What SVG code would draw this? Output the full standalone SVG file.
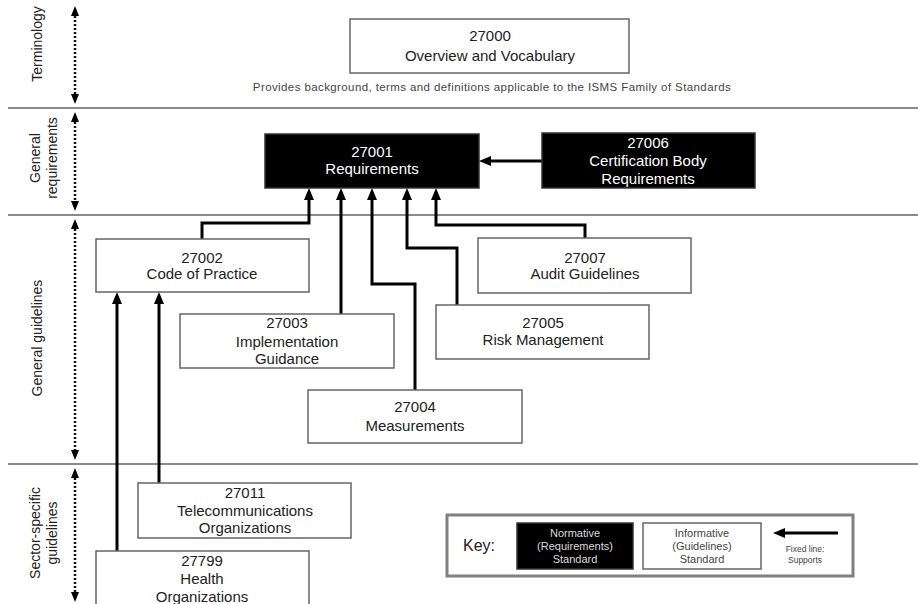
<svg xmlns="http://www.w3.org/2000/svg" width="918" height="604" viewBox="0 0 918 604">
<style>
text{font-family:"Liberation Sans",Arial,sans-serif;}
.sep{stroke:#8a8a8a;stroke-width:2;fill:none;}
.dot{stroke:#111;stroke-width:2.5;stroke-dasharray:2 2;fill:none;marker-start:url(#dh);marker-end:url(#dh);}
.lab{font-size:14px;fill:#222;text-anchor:middle;}
.inf{fill:#fff;stroke:#666;stroke-width:1.5;}
.nor{fill:#000;stroke:#333;stroke-width:1.5;}
.t{font-size:15px;fill:#222;text-anchor:middle;}
.tw{font-size:15px;fill:#fff;text-anchor:middle;}
.con{stroke:#000;stroke-width:3;fill:none;marker-end:url(#ah);}
.k{font-size:11px;text-anchor:middle;}
</style>
<defs>
<marker id="ah" markerUnits="userSpaceOnUse" viewBox="0 0 12 10" refX="6" refY="5" markerWidth="12" markerHeight="10" orient="auto">
<path d="M0,0 L12,5 L0,10 z" fill="#000"/>
</marker>
<marker id="dh" markerUnits="userSpaceOnUse" viewBox="0 0 10 8" refX="4" refY="4" markerWidth="10" markerHeight="8" orient="auto-start-reverse">
<path d="M0,0 L10,4 L0,8 z" fill="#000"/>
</marker>
</defs>
<rect width="918" height="604" fill="#fff"/>

<g id="sections">
<line class="sep" x1="8" y1="108" x2="918" y2="108"/>
<line class="sep" x1="8" y1="215" x2="918" y2="215"/>
<line class="sep" x1="8" y1="464" x2="918" y2="464"/>
<path class="dot" d="M75,12 V98"/>
<path class="dot" d="M75,118 V205"/>
<path class="dot" d="M75,225 V454"/>
<path class="dot" d="M75,474 V596"/>
<text class="lab" transform="translate(42,44) rotate(-90)">Terminology</text>
<text class="lab" transform="translate(40,158) rotate(-90)">General</text>
<text class="lab" transform="translate(57,158) rotate(-90)">requirements</text>
<text class="lab" transform="translate(42,338) rotate(-90)">General guidelines</text>
<text class="lab" transform="translate(40,533) rotate(-90)">Sector-specific</text>
<text class="lab" transform="translate(57,533) rotate(-90)">guidelines</text>
</g>

<g id="connectors">
<path class="con" d="M202,239 V223 H309 V194"/>
<path class="con" d="M341,314 V194"/>
<path class="con" d="M415,390 V284 H372 V194"/>
<path class="con" d="M457,305 V248 H407 V194"/>
<path class="con" d="M585,238 V225 H436 V194"/>
<path class="con" d="M542,161 H485"/>
<path class="con" d="M159,483 V298"/>
<path class="con" d="M117,551 V298"/>
</g>

<g id="n27000">
<rect class="inf" x="350" y="19" width="279" height="54"/>
<text class="t" x="490" y="40.5">27000</text>
<text class="t" x="490" y="60.5">Overview and Vocabulary</text>
<text x="492" y="91" font-size="11.5" fill="#444" text-anchor="middle" letter-spacing="0.4">Provides background, terms and definitions applicable to the ISMS Family of Standards</text>
</g>

<g id="n27001">
<rect class="nor" x="265" y="134" width="214" height="54"/>
<text class="tw" x="372" y="156.5">27001</text>
<text class="tw" x="372" y="174">Requirements</text>
</g>

<g id="n27006">
<rect class="nor" x="542" y="133" width="213" height="55"/>
<text class="tw" x="648" y="147.5">27006</text>
<text class="tw" x="648" y="166">Certification Body</text>
<text class="tw" x="648" y="184">Requirements</text>
</g>

<g id="n27002">
<rect class="inf" x="96" y="239" width="213" height="53"/>
<text class="t" x="202" y="262.5">27002</text>
<text class="t" x="202" y="279">Code of Practice</text>
</g>

<g id="n27007">
<rect class="inf" x="478" y="238" width="213" height="55"/>
<text class="t" x="585" y="262.5">27007</text>
<text class="t" x="585" y="279">Audit Guidelines</text>
</g>

<g id="n27003">
<rect class="inf" x="180" y="314" width="214" height="54"/>
<text class="t" x="287" y="328">27003</text>
<text class="t" x="287" y="346.5">Implementation</text>
<text class="t" x="287" y="364">Guidance</text>
</g>

<g id="n27005">
<rect class="inf" x="436" y="305" width="213" height="54"/>
<text class="t" x="543" y="327.5">27005</text>
<text class="t" x="543" y="345">Risk Management</text>
</g>

<g id="n27004">
<rect class="inf" x="308" y="390" width="214" height="53"/>
<text class="t" x="415" y="412">27004</text>
<text class="t" x="415" y="430.5">Measurements</text>
</g>

<g id="n27011">
<rect class="inf" x="138" y="483" width="213" height="55"/>
<text class="t" x="245" y="497.5">27011</text>
<text class="t" x="245" y="516">Telecommunications</text>
<text class="t" x="245" y="532.5">Organizations</text>
</g>

<g id="n27799">
<rect class="inf" x="96" y="551" width="213" height="60"/>
<text class="t" x="202" y="566">27799</text>
<text class="t" x="202" y="584">Health</text>
<text class="t" x="202" y="602">Organizations</text>
</g>

<g id="key">
<rect x="447" y="515" width="406" height="61" fill="#fff" stroke="#808080" stroke-width="3"/>
<text x="463" y="551" font-size="16" fill="#222">Key:</text>
<rect class="nor" x="517" y="523" width="116" height="46"/>
<text class="k" x="575" y="537" fill="#ddd">Normative</text>
<text class="k" x="575" y="550" fill="#ddd">(Requirements)</text>
<text class="k" x="575" y="563" fill="#ddd">Standard</text>
<rect class="inf" x="643" y="523" width="118" height="46"/>
<text class="k" x="702" y="537" fill="#444">Informative</text>
<text class="k" x="702" y="550" fill="#444">(Guidelines)</text>
<text class="k" x="702" y="563" fill="#444">Standard</text>
<path class="con" d="M838,533 H779"/>
<text x="805" y="552" font-size="8.5" fill="#444" text-anchor="middle">Fixed line:</text>
<text x="805" y="563" font-size="8.5" fill="#444" text-anchor="middle">Supports</text>
</g>
</svg>
